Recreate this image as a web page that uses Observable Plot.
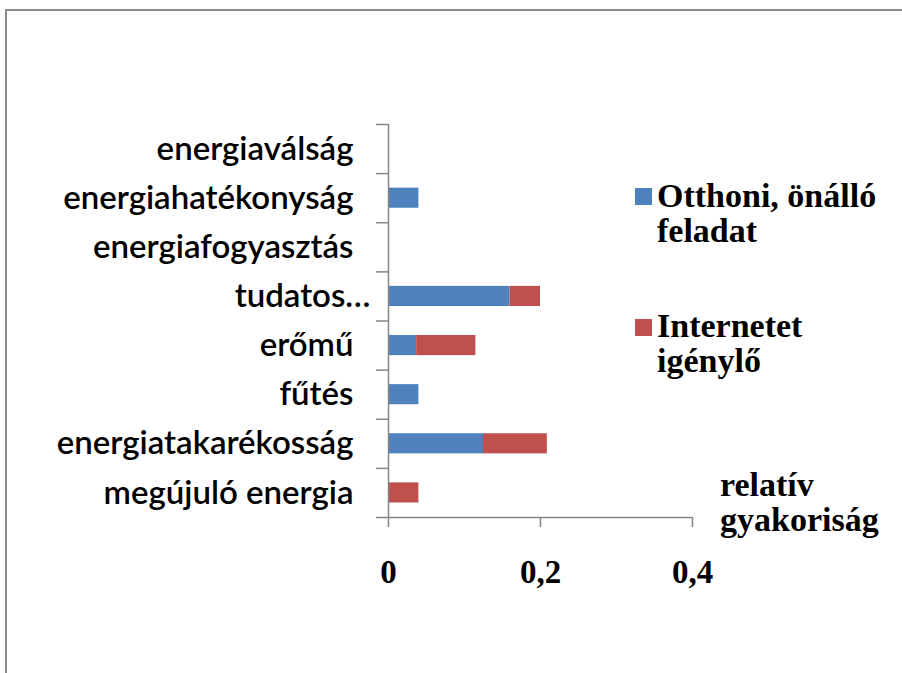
<!DOCTYPE html>
<html>
<head>
<meta charset="utf-8">
<script src="https://cdn.jsdelivr.net/npm/d3@7"></script>
<script src="https://cdn.jsdelivr.net/npm/@observablehq/plot@0.6"></script>
<style>
  html, body { margin: 0; padding: 0; background: #fff; overflow: hidden; }
  #wrap { position: relative; width: 902px; height: 673px; overflow: hidden; }
  #frame { position: absolute; left: 5px; top: 9px; width: 1000px; height: 1000px;
           border-left: 2px solid #8c8c8c; border-top: 2px solid #8c8c8c; }
  #chart { position: absolute; left: 0; top: 0; }
  .serif { position: absolute; font-family: "Liberation Serif", "Times New Roman", serif;
           font-weight: bold; font-size: 34px; line-height: 35px; color: #000; white-space: nowrap; }
  .sw { position: absolute; width: 17px; height: 17px; }
</style>
</head>
<body>
<div id="wrap">
  <div id="frame"></div>
  <div id="chart"></div>
  <div class="sw" style="left:635px; top:188px; background:#4F81BD"></div>
  <div class="serif" id="leg1" style="left:657px; top:178px"></div>
  <div class="sw" style="left:635px; top:319px; background:#C0504D"></div>
  <div class="serif" id="leg2" style="left:657px; top:308px"></div>
  <div class="serif" id="xtitle" style="left:720px; top:467px"></div>
</div>
<script>
// categories, bottom to top
const categories = ["megújuló energia", "energiatakarékosság", "fűtés", "erőmű", "tudatos…", "energiafogyasztás", "energiahatékonyság", "energiaválság"];
const seriesNames = ["Otthoni, önálló feladat", "Internetet igénylő"];
const otthoni  = [0,    0.125, 0.04, 0.037, 0.16, 0, 0.04, 0];
const internet = [0.04, 0.084, 0,    0.078, 0.04, 0, 0,    0];
const xTicks = [0, 0.2, 0.4];
const axisTitle = ["relatív", "gyakoriság"];
const colors = ["#4F81BD", "#C0504D"];

const rows = [];
categories.forEach((c, i) => {
  rows.push({cat: c, i, series: seriesNames[0], x1: 0, x2: otthoni[i]});
  rows.push({cat: c, i, series: seriesNames[1], x1: otthoni[i], x2: otthoni[i] + internet[i]});
});
const bars = rows.filter(d => d.x2 > d.x1);
const labels = categories.map((c, i) => ({c, i, trunc: c.endsWith("…")}));

const axisColor = "#868686";
const labelStyle = {x: () => 0, y: d => d.i + 0.5, text: d => d.c, textAnchor: "end",
  fontSize: 33, fontFamily: "Lato, Calibri, sans-serif", fontWeight: 600, fill: "#000"};
const chart = Plot.plot({
  width: 902,
  height: 673,
  marginLeft: 388,
  marginRight: 210,
  marginTop: 124,
  marginBottom: 156,
  style: {background: "transparent", overflow: "visible"},
  x: {domain: [0, 0.4], axis: null},
  y: {domain: [0, categories.length], axis: null},
  color: {domain: seriesNames, range: colors},
  marks: [
    Plot.rect(bars, {x1: "x1", x2: "x2", y1: "i", y2: d => d.i + 1, fill: "series", insetTop: 14.5, insetBottom: 14.5}),
    Plot.ruleX([0], {stroke: axisColor, strokeWidth: 1.5}),
    Plot.ruleY([0], {stroke: axisColor, strokeWidth: 1.5}),
    Plot.axisY({ticks: d3.range(0, categories.length + 1), tickSize: 12, tickFormat: () => "", label: null, stroke: axisColor, strokeWidth: 1.5}),
    Plot.axisX({ticks: xTicks, tickSize: 10, tickPadding: 32, label: null, stroke: axisColor, strokeWidth: 1.5,
      tickFormat: d => String(d).replace(".", ","),
      fill: "#000", fontSize: 33, fontWeight: "bold", fontFamily: "Liberation Serif, Times New Roman, serif"}),
    Plot.text(labels.filter(d => !d.trunc), {...labelStyle, dx: -35}),
    Plot.text(labels.filter(d => d.trunc), {...labelStyle, dx: -18})
  ]
});
document.getElementById("chart").appendChild(chart);
document.getElementById("leg1").innerHTML = "Otthoni, önálló<br>feladat";
document.getElementById("leg2").innerHTML = "Internetet<br>igénylő";
document.getElementById("xtitle").innerHTML = axisTitle.join("<br>");
</script>
</body>
</html>
